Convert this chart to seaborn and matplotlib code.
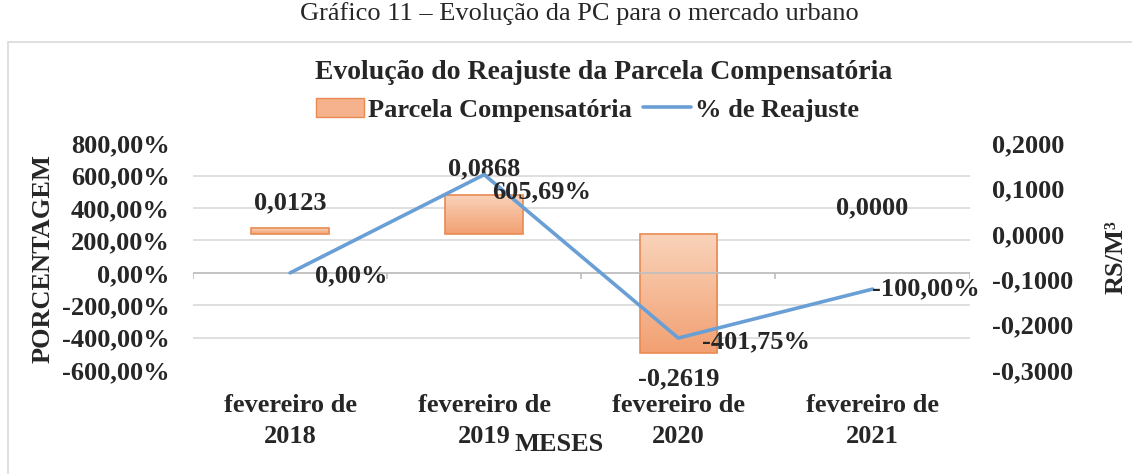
import numpy as np
import pandas as pd
import matplotlib
matplotlib.use("Agg")
import matplotlib.pyplot as plt
from matplotlib.patches import Patch, Rectangle
from matplotlib.lines import Line2D
from matplotlib.ticker import FixedLocator, NullFormatter
import seaborn as sns

# Data
meses = ["fevereiro de\n2018", "fevereiro de\n2019", "fevereiro de\n2020", "fevereiro de\n2021"]
parcela = [0.0123, 0.0868, -0.2619, 0.0000]          # R$/M3 (right axis)
reajuste = [0.00, 605.69, -401.75, -100.00]          # % (left axis)
parcela_lbl = ["0,0123", "0,0868", "-0,2619", "0,0000"]
reajuste_lbl = ["0,00%", "605,69%", "-401,75%", "-100,00%"]
left_ticks = [800, 600, 400, 200, 0, -200, -400, -600]
right_ticks = [0.2, 0.1, 0.0, -0.1, -0.2, -0.3]

sns.set_style("white")
plt.rcParams['font.family'] = ['Liberation Serif', 'DejaVu Serif']
FS = 19

bar_edge = "#E98A52"
line_col = "#6A9FD6"
grid_col = "#D9D9D9"

fig = plt.figure(figsize=(11.32, 4.74), dpi=100)
ax = fig.add_axes([0.1705, 0.219, 0.686, 0.479])   # bars, right scale
ax2 = ax.twinx()                                      # line, left scale

df = pd.DataFrame({"mes": meses, "parcela": parcela, "reajuste": reajuste})

# bars (R$/M3)
sns.barplot(data=df, x="mes", y="parcela", ax=ax, width=0.4,
            color="#F5B28C", edgecolor=bar_edge, linewidth=1.2, saturation=1)

# gradient fill inside bars
grad = np.linspace(0, 1, 100).reshape(-1, 1)
cmap = matplotlib.colors.LinearSegmentedColormap.from_list("g", ["#F9D3BA", "#F2A072"])
for p in ax.patches:
    x0, y0 = p.get_x(), p.get_y()
    w, h = p.get_width(), p.get_height()
    if h == 0:
        p.set_linewidth(0)
        continue
    top, bot = max(y0, y0 + h), min(y0, y0 + h)
    im = ax.imshow(grad, extent=[x0, x0 + w, bot, top], cmap=cmap,
                   aspect="auto", origin="upper", zorder=p.get_zorder())
    im.set_clip_path(p)
    p.set_facecolor("none")
    p.set_zorder(p.get_zorder() + 0.1)
ax.set_ylim(-0.3, 0.2)
ax.set_xlim(-0.5, 3.5)

# right-side axis for bars
ax.yaxis.tick_right()
ax.yaxis.set_label_position("right")
ax.set_yticks(right_ticks)
ax.set_yticklabels([f"{v:.4f}".replace(".", ",") for v in right_ticks])
ax.set_ylabel("RS/M³", fontsize=FS, fontweight="bold")
ax.yaxis.set_label_coords(1.174, 0.5)

# gridlines at left-scale positions, behind bars
grid_r = [-0.3 + (v + 600) / 1400 * 0.5 for v in left_ticks]
ax.yaxis.set_minor_locator(FixedLocator(grid_r))
ax.yaxis.set_minor_formatter(NullFormatter())
ax.grid(which="minor", axis="y", color=grid_col, linewidth=1.2)
ax.grid(which="major", visible=False)
ax.set_axisbelow(True)
ax.tick_params(which="both", length=0)
ax.tick_params(axis="y", labelsize=FS, pad=16)
ax.tick_params(axis="x", labelsize=FS, pad=17)
for lab in ax.get_yticklabels() + ax.get_xticklabels():
    lab.set_fontweight("bold")
    lab.set_linespacing(1.45)
ax.set_xlabel("MESES", fontsize=FS, fontweight="bold")
ax.xaxis.set_label_coords(0.472, -0.275)

# bar data labels
for i, (v, t) in enumerate(zip(parcela, parcela_lbl)):
    off = 18.5 if v >= 0 else -19
    ax.annotate(t, (i, v), xytext=(0, off), textcoords="offset points",
                ha="center", va="center", fontsize=FS, fontweight="bold")

# line (% de reajuste)
sns.pointplot(data=df, x="mes", y="reajuste", ax=ax2, color=line_col,
              markers="", linewidth=2.6)
for ln in ax2.lines:
    ln.set_marker("")
ax2.set_ylim(-600, 800)
ax2.set_xlim(-0.5, 3.5)
ax2.yaxis.tick_left()
ax2.yaxis.set_label_position("left")
ax2.set_yticks(left_ticks)
ax2.set_yticklabels([f"{v:.2f}%".replace(".", ",") for v in left_ticks])
ax2.set_ylabel("PORCENTAGEM", fontsize=FS, fontweight="bold")
ax2.yaxis.set_label_coords(-0.178, 0.49)
ax2.tick_params(which="both", length=0, labelsize=FS, pad=17)
for lab in ax2.get_yticklabels():
    lab.set_fontweight("bold")
ax2.set_xlabel("")
ax2.grid(False)

# category axis line at 0 % with boundary ticks
ax2.axhline(0, color="#BFBFBF", linewidth=1.2, zorder=0)
ax2.vlines(np.arange(len(meses) + 1) - 0.5, -40, 0, color="#BFBFBF", linewidth=1.2, zorder=0)

# line labels, Excel places them to the right of each point
lbl_off = [(18, -2), (6, -12), (17, -3), (0, 0)]
for i, (v, t) in enumerate(zip(reajuste, reajuste_lbl)):
    ax2.annotate(t, (i, v), xytext=lbl_off[i], textcoords="offset points",
                 ha="left", va="center", fontsize=FS, fontweight="bold")

for a in (ax, ax2):
    for s in a.spines.values():
        s.set_visible(False)

# frame and titles
fig.patches.append(Rectangle((0.007, -0.05), 1.1, 0.962, transform=fig.transFigure,
                             fill=False, edgecolor=grid_col, linewidth=1.2))
fig.text(0.512, 0.972, "Gráfico 11 – Evolução da PC para o mercado urbano",
         ha="center", va="center", fontsize=FS)
fig.text(0.533, 0.846, "Evolução do Reajuste da Parcela Compensatória",
         ha="center", va="center", fontsize=20, fontweight="bold")

handles = [Patch(facecolor="#F5B28C", edgecolor=bar_edge, label="Parcela Compensatória"),
           Line2D([0], [0], color=line_col, linewidth=2.6, label="% de Reajuste")]
fig.legend(handles=handles, loc="center", bbox_to_anchor=(0.519, 0.768), ncol=2,
           frameon=False, handlelength=1.8, handletextpad=0.15, columnspacing=0.45,
           prop={"size": FS, "weight": "bold"})

fig.savefig("out.png", dpi=100)
